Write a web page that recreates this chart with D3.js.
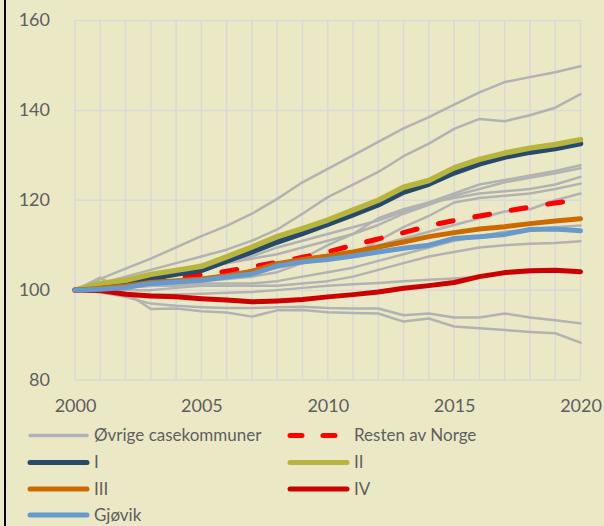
<!DOCTYPE html>
<html><head><meta charset="utf-8">
<script src="https://cdn.jsdelivr.net/npm/d3@7"></script>
<style>html,body{margin:0;padding:0;background:#EBE9C5;}svg{display:block;}</style>
</head><body>
<svg id="c" width="604" height="526"></svg>
<script>
const years = d3.range(2000, 2021);
const xTicks = [2000, 2005, 2010, 2015, 2020];
const yTicks = [80, 100, 120, 140, 160];

const ovrige = [
  [100,102.5,104.8,107,109.5,112,114.3,117,120.3,124,127,130,133,136,138.5,141.3,144,146.3,147.4,148.5,149.8],
  [100,101.5,103,104.5,106,107.5,109,111,113.5,117,120.7,123.5,126.3,129.8,132.6,135.9,138.1,137.6,138.9,140.6,143.6],
  [100,100.5,101.5,102.5,103.5,104.5,106,107.5,109.5,111,112.5,114,115.5,117.5,119.5,121.5,123.5,124.5,125.5,126.5,127.8],
  [100,101,102,103,104,105,106,107,108,109.5,111,112.5,114.5,117,119,121,122.5,124,125,126,127.1],
  [100,100.5,101,101.5,102,102.5,103,103.5,105,107,110,112.5,116,118,119.5,120.5,121.5,122,122.5,123.5,125.2],
  [100,100,100.5,101,101.5,102,102.5,103,104,106,107,108,111,114,116.5,119.5,120.5,121,121.5,122.5,123.7],
  [100,100.5,101,101.5,102,102.5,103.5,104,105,106,107,108.5,110,111.5,113,114.5,116,117.5,118,120,121.5],
  [100,100,100.5,101,101,101.5,101.5,101.5,102,103,104,105,106.5,108,109.5,111,112,113,113.5,114,114.4],
  [100,100,100,100,100.5,101,101,101,101,101.5,102,103,104.5,106,107.5,108.5,109.5,110,110.3,110.5,110.9],
  [100,99.5,99.2,99,99,99.2,99.4,99.6,100,100.5,101,101.3,101.6,102,102.3,102.6,103,103.6,104,104.2,104.1],
  [100,99.5,98.5,97,96.5,96.2,96,96,96.2,96.3,96,95.9,95.9,94.4,94.8,93.9,93.9,94.8,93.9,93.3,92.6],
  [100,102.8,99.5,95.8,95.9,95.3,95,94.1,95.5,95.6,95.1,94.9,94.8,93,93.7,91.9,91.5,91.1,90.7,90.4,88.3]
];
const resten = [100,100.8,101.5,102.2,102.8,103.4,104.2,105.2,106.2,107.3,108.5,110,111.4,112.8,114.3,115.5,116.5,117.5,118.5,119.4,120.2];
const serI   = [100,100.9,101.3,102.6,103.6,104.4,106.5,108.5,110.7,112.6,114.7,116.8,119,121.8,123.6,126.1,128.1,129.6,130.7,131.5,132.6];
const serII  = [100,101.5,102.2,103.5,104.4,105.3,107.4,109.6,111.9,113.7,115.6,117.8,120,122.9,124.4,127.2,129.1,130.5,131.6,132.4,133.5];
const serIII = [100,100.4,100.9,101.7,102.1,102.5,103.2,104.2,105.9,106.8,107.6,108.5,109.6,110.7,111.9,112.8,113.6,114.1,114.8,115.4,115.9];
const serIV  = [100,99.9,99.1,98.7,98.5,98.1,97.8,97.4,97.6,97.9,98.5,99.0,99.6,100.4,101.0,101.7,103.0,103.9,104.3,104.4,104.1];
const gjovik = [100,100.2,100.6,101.5,101.8,102.2,102.9,103.6,105.4,106.3,106.8,107.6,108.5,109.3,110.0,111.5,111.9,112.4,113.5,113.6,113.2];

const legendItems = [
  {name: "Øvrige casekommuner", color: "#B2B2B2", w: 2.5, lw: 3.5, dash: null},
  {name: "Resten av Norge", color: "#FF0000", w: 5, lw: 5, dash: "15,22"},
  {name: "I", color: "#264A6B", w: 5.5, lw: 5, dash: null},
  {name: "II", color: "#B8B53F", w: 5.5, lw: 5, dash: null},
  {name: "III", color: "#CC6A00", w: 5, lw: 5, dash: null},
  {name: "IV", color: "#CC0000", w: 5, lw: 5, dash: null},
  {name: "Gjøvik", color: "#6699CC", w: 5, lw: 5, dash: null}
];

const svg = d3.select("#c");
const x = d3.scaleLinear().domain([2000, 2020]).range([75, 580.5]);
const y = d3.scaleLinear().domain([80, 160]).range([380, 20.5]);
const font = "Lato, 'Liberation Sans', Arial, sans-serif";
const textColor = "#5E5E5E";

svg.append("rect").attr("x", 0).attr("y", 0).attr("width", 604).attr("height", 526).attr("fill", "#EBE9C5");
svg.append("rect").attr("x", 4).attr("y", 0).attr("width", 2).attr("height", 526).attr("fill", "#000");

// grid
const grid = svg.append("g").attr("stroke", "#D9D9D9").attr("stroke-width", 1.5);
years.forEach(yr => grid.append("line").attr("x1", x(yr)).attr("x2", x(yr)).attr("y1", y(160)).attr("y2", y(80)));
yTicks.forEach(v => grid.append("line").attr("x1", x(2000)).attr("x2", x(2020)).attr("y1", y(v)).attr("y2", y(v)));

// axes via d3
const yAxis = d3.axisLeft(y).tickValues(yTicks).tickSize(0).tickPadding(0);
const yg = svg.append("g").attr("transform", "translate(50,0)").call(yAxis);
yg.select(".domain").remove();
yg.selectAll("text").attr("font-family", font).attr("font-size", 18).attr("fill", textColor).attr("dy", "0.3em");

const xAxis = d3.axisBottom(x).tickValues(xTicks).tickFormat(d3.format("d")).tickSize(0).tickPadding(0);
const xg = svg.append("g").attr("transform", "translate(0,399)").call(xAxis);
xg.select(".domain").remove();
xg.selectAll("text").attr("font-family", font).attr("font-size", 18).attr("fill", textColor).attr("dy", "0.71em");

const line = d3.line().x((d, i) => x(years[i])).y(d => y(d));

const series = [];
ovrige.forEach(s => series.push({data: s, it: legendItems[0]}));
series.push({data: resten, it: legendItems[1]});
series.push({data: serI, it: legendItems[2]});
series.push({data: serII, it: legendItems[3]});
series.push({data: serIII, it: legendItems[4]});
series.push({data: serIV, it: legendItems[5]});
series.push({data: gjovik, it: legendItems[6]});

svg.append("g").selectAll("path").data(series).join("path")
  .attr("d", d => line(d.data))
  .attr("fill", "none")
  .attr("stroke", d => d.it.color)
  .attr("stroke-width", d => d.it.w)
  .attr("stroke-linejoin", "round")
  .attr("stroke-linecap", "round")
  .attr("stroke-dasharray", d => d.it.dash);

// legend
const lg = svg.append("g");
const positions = [
  [28, 435.5], [288, 435.5],
  [28, 462.5], [288, 462.5],
  [28, 489], [288, 489],
  [28, 515]
];
legendItems.forEach((it, i) => {
  const [lx, ly] = positions[i];
  lg.append("line").attr("x1", lx + 2).attr("x2", lx + 59).attr("y1", ly).attr("y2", ly)
    .attr("stroke", it.color).attr("stroke-width", it.lw).attr("stroke-linecap", "round")
    .attr("stroke-dasharray", it.dash ? "12,21" : null);
  lg.append("text").attr("x", lx + 66).attr("y", ly).attr("dy", "0.35em")
    .attr("font-family", font).attr("font-size", 17).attr("fill", textColor).text(it.name);
});
</script>
</body></html>
